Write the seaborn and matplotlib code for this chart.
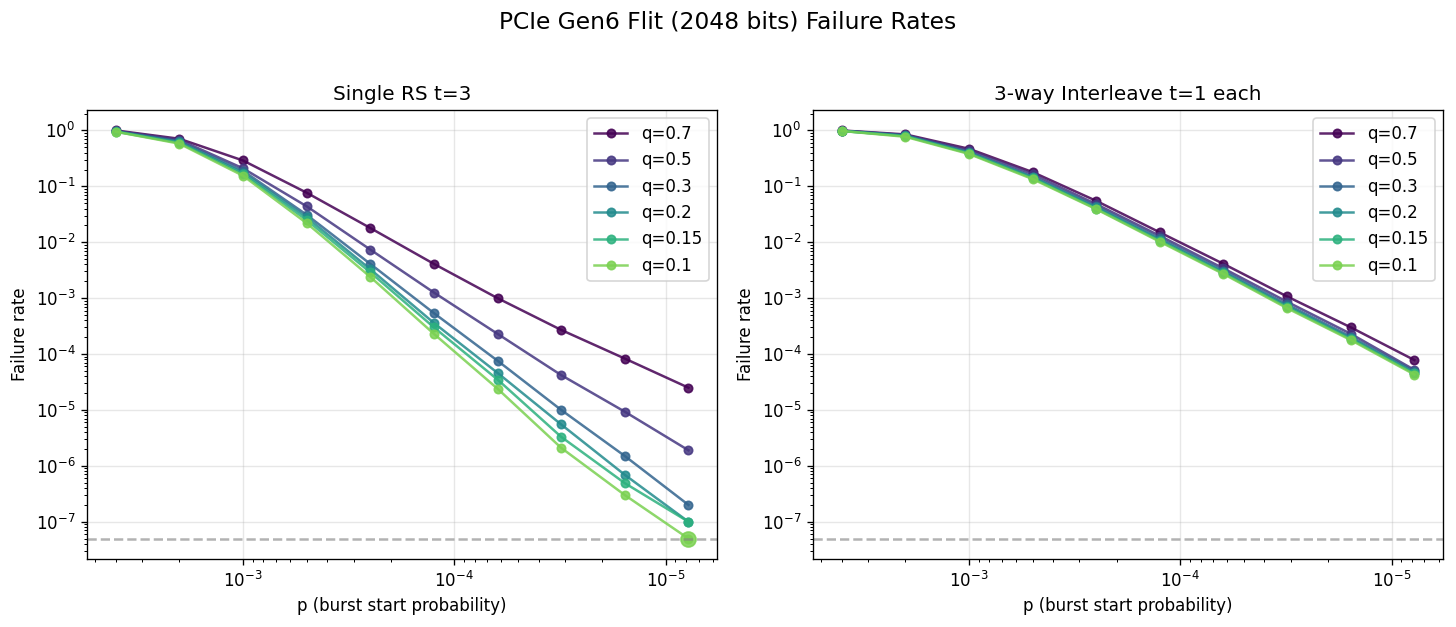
import numpy as np
import pandas as pd
import matplotlib
matplotlib.use("Agg")
import matplotlib.pyplot as plt
import seaborn as sns

# valores
p_vals = [4e-3, 2e-3, 1e-3, 5e-4, 2.5e-4, 1.25e-4, 6.25e-5, 3.125e-5, 1.5625e-5, 7.8125e-6]
q_labels = ['q=0.7', 'q=0.5', 'q=0.3', 'q=0.2', 'q=0.15', 'q=0.1']
piso = 5e-8

rs_q07 = [1.0, 0.71, 0.29, 0.077, 0.018, 4.1e-3, 1.0e-3, 2.7e-4, 8.3e-5, 2.5e-5]
rs_q05 = [0.98, 0.68, 0.21, 0.044, 7.4e-3, 1.26e-3, 2.3e-4, 4.2e-5, 9.3e-6, 1.9e-6]
rs_q03 = [0.97, 0.64, 0.19, 0.031, 4.1e-3, 5.4e-4, 7.6e-5, 1.0e-5, 1.5e-6, 2.0e-7]
rs_q02 = [0.96, 0.62, 0.175, 0.028, 3.3e-3, 3.6e-4, 4.6e-5, 5.5e-6, 6.9e-7, 1.0e-7]
rs_q015 = [0.95, 0.60, 0.165, 0.025, 2.9e-3, 3.0e-4, 3.5e-5, 3.3e-6, 4.9e-7, 1.0e-7]
rs_q01 = [0.95, 0.58, 0.155, 0.022, 2.4e-3, 2.3e-4, 2.4e-5, 2.1e-6, 3.0e-7, 5e-8]

il_q07 = [1.0, 0.85, 0.47, 0.18, 0.055, 0.015, 4.1e-3, 1.07e-3, 3.0e-4, 7.8e-5]
il_q05 = [0.99, 0.83, 0.44, 0.165, 0.048, 0.013, 3.4e-3, 8.6e-4, 2.3e-4, 5.2e-5]
il_q03 = [0.99, 0.82, 0.41, 0.15, 0.044, 0.0118, 3.1e-3, 7.7e-4, 2.05e-4, 4.9e-5]
il_q02 = [0.98, 0.80, 0.40, 0.145, 0.042, 0.011, 2.9e-3, 7.2e-4, 1.92e-4, 4.6e-5]
il_q015 = [0.98, 0.79, 0.39, 0.14, 0.040, 0.0106, 2.8e-3, 6.9e-4, 1.85e-4, 4.5e-5]
il_q01 = [0.98, 0.77, 0.38, 0.135, 0.039, 0.0102, 2.7e-3, 6.6e-4, 1.78e-4, 4.3e-5]

paineis = {
    'Single RS t=3': [rs_q07, rs_q05, rs_q03, rs_q02, rs_q015, rs_q01],
    '3-way Interleave t=1 each': [il_q07, il_q05, il_q03, il_q02, il_q015, il_q01],
}

linhas = []
for painel, series in paineis.items():
    for q, vals in zip(q_labels, series):
        for p, v in zip(p_vals, vals):
            linhas.append({'painel': painel, 'q': q, 'p': p, 'taxa': v})
df = pd.DataFrame(linhas)

cores = [plt.cm.viridis(x) for x in np.linspace(0, 0.8, len(q_labels))]

fig = plt.figure(figsize=(1456 / 120, 627 / 120), dpi=120)
eixos = [fig.add_axes([0.0598, 0.1085, 0.4327, 0.716]),
         fig.add_axes([0.5584, 0.1085, 0.4327, 0.716])]

for ax, painel in zip(eixos, paineis):
    dados = df[df['painel'] == painel]
    sns.lineplot(data=dados, x='p', y='taxa', hue='q', hue_order=q_labels,
                 palette=cores, marker='o', markersize=5, markeredgewidth=1,
                 linewidth=1.5, alpha=0.85, ax=ax, estimator=None, sort=False)
    # borda do marcador na mesma cor da linha
    for ln in ax.lines:
        ln.set_markeredgecolor(ln.get_color())
    # pontos no piso (nenhuma falha observada)
    no_piso = dados[dados['taxa'] <= piso]
    for _, r in no_piso.iterrows():
        ax.plot(r['p'], r['taxa'], 'o', markersize=9,
                color=cores[q_labels.index(r['q'])], alpha=0.85)
    ax.axhline(piso, color='gray', linestyle='--', alpha=0.6, linewidth=1.5)
    ax.set_xscale('log')
    ax.set_yscale('log')
    ax.invert_xaxis()
    ax.grid(True, alpha=0.3)
    ax.set_title(painel, fontsize=12)
    ax.set_xlabel('p (burst start probability)')
    ax.set_ylabel('Failure rate')
    leg = ax.legend(loc='upper right')
    for h in leg.legend_handles:
        h.set_markeredgecolor(h.get_color())

fig.suptitle('PCIe Gen6 Flit (2048 bits) Failure Rates', fontsize=14, y=0.965, va='center')
fig.savefig('out.png', dpi=120)
plt.close(fig)
